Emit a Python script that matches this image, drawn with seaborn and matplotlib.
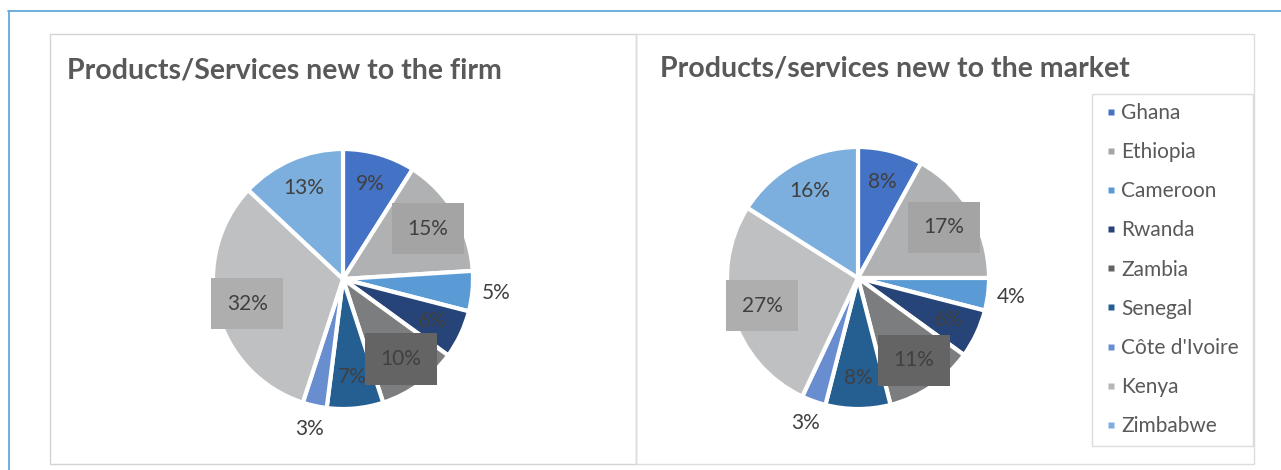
import matplotlib
matplotlib.use("Agg")
import matplotlib.pyplot as plt
import seaborn as sns
import numpy as np
from matplotlib.patches import Rectangle
from matplotlib.lines import Line2D

countries = ["Ghana", "Ethiopia", "Cameroon", "Rwanda", "Zambia", "Senegal",
             "Côte d'Ivoire", "Kenya", "Zimbabwe"]
firm_values = [9, 15, 5, 6, 10, 7, 3, 32, 13]
market_values = [8, 17, 4, 6, 11, 8, 3, 27, 16]
title_firm = "Products/Services new to the firm"
title_market = "Products/services new to the market"

colors = ["#4472C4", "#B0B1B3", "#5B9BD5", "#264478", "#7C7D7F", "#255E91",
          "#698ED0", "#BFC0C2", "#7CAFDD"]
legend_colors = ["#4472C4", "#A5A5A5", "#5B9BD5", "#264478", "#636363", "#255E91",
                 "#698ED0", "#B7B7B7", "#7CAFDD"]
# label boxes (artifact fills seen behind some labels)
box_colors = {"Ethiopia": "#A4A4A4", "Kenya": "#AEAEAE", "Zambia": "#646464"}

sns.set_theme(style="white")
plt.rcParams['font.family'] = ['Lato', 'DejaVu Sans']

W, H = 1281, 470
fig = plt.figure(figsize=(W / 100, H / 100), dpi=100)
fig.patch.set_facecolor("white")

def fx(px):
    return px / W

def fy(py):
    return 1 - py / H

# outer blue frame lines
fig.add_artist(Line2D([fx(8), fx(1281)], [fy(11), fy(11)], color="#62A9DB", lw=1.3,
                      transform=fig.transFigure))
fig.add_artist(Line2D([fx(9), fx(9)], [fy(11), fy(470)], color="#62A9DB", lw=1.3,
                      transform=fig.transFigure))
# panels
fig.add_artist(Rectangle((fx(50), fy(464)), fx(636 - 50), (464 - 34) / H, fill=False,
                         ec="#D4D4D4", lw=1, transform=fig.transFigure))
fig.add_artist(Rectangle((fx(636), fy(464)), fx(1254 - 636), (464 - 34) / H, fill=False,
                         ec="#DCDCDC", lw=1, transform=fig.transFigure))

def draw_pie(values, cx, cy, r, title, tx, ty):
    half = 1.45 * r
    ax = fig.add_axes([fx(cx - half), fy(cy + half), 2 * half / W, 2 * half / H])
    wedges, _ = ax.pie(values, colors=colors, startangle=90, counterclock=False,
                       radius=1, wedgeprops=dict(edgecolor="white", linewidth=3))
    ax.set_xlim(-1.45, 1.45)
    ax.set_ylim(-1.45, 1.45)
    ax.axis("off")
    for w, v, name in zip(wedges, values, countries):
        ang = np.deg2rad((w.theta1 + w.theta2) / 2)
        d = 1.18 if v <= 5 else 0.76
        x, y = d * np.cos(ang), d * np.sin(ang)
        kw = {}
        if name in box_colors:
            kw["bbox"] = dict(boxstyle="square,pad=0.75", fc=box_colors[name], ec="none")
        ax.text(x, y, f"{v}%", ha="center", va="center", fontsize=15,
                color="#404040", **kw)
    fig.text(fx(tx), fy(ty), title, fontsize=20.5, fontweight="bold", color="#595959",
             ha="left", va="center")
    return wedges

draw_pie(firm_values, 343, 279, 130, title_firm, 67, 71)
draw_pie(market_values, 858, 278, 131, title_market, 660, 69)

handles = [Line2D([], [], marker="s", linestyle="none", markersize=5,
                  markerfacecolor=c, markeredgecolor="none") for c in legend_colors]
leg = fig.legend(handles, countries, loc="upper left",
                 bbox_to_anchor=(fx(1092), fy(94), fx(1253) - fx(1092), 0.001),
                 mode="expand", frameon=True, fancybox=False, fontsize=15,
                 handlelength=0.88, handletextpad=0.08,
                 labelspacing=0.92, borderpad=0.45, borderaxespad=0)
leg.get_frame().set_edgecolor("#D4D4D4")
leg.get_frame().set_linewidth(1)
for t in leg.get_texts():
    t.set_color("#595959")

fig.savefig("out.png", dpi=100, facecolor="white")
